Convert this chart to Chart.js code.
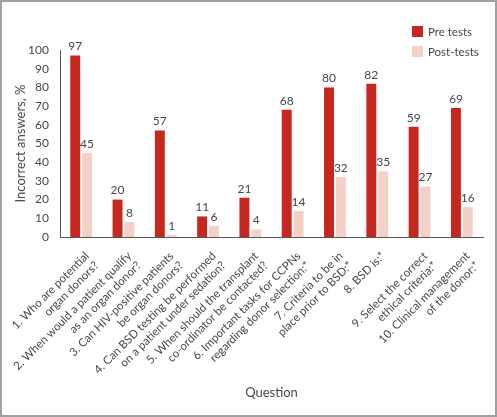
<!DOCTYPE html>
<html>
<head>
<meta charset="utf-8">
<script src="https://cdn.jsdelivr.net/npm/chart.js@4"></script>
<style>
  html, body { margin: 0; padding: 0; background: #fff; }
  #wrap { position: relative; width: 497px; height: 417px; box-sizing: border-box; border: 2px solid #a0a0a0; }
  canvas { position: absolute; left: -2px; top: -2px; }
</style>
</head>
<body>
<div id="wrap"><canvas id="chart" width="497" height="417"></canvas></div>
<script>
const categories = [
    ['1. Who are potential', 'organ donors?'],
    ['2. When would a patient qualify', 'as an organ donor?'],
    ['3. Can HIV-positive patients', 'be organ donors?'],
    ['4. Can BSD testing be performed', 'on a patient under sedation?'],
    ['5. When should the transplant', 'co-ordinator be contacted?'],
    ['6. Important tasks for CCPNs', 'regarding donor selection:*'],
    ['7. Criteria to be in', 'place prior to BSD:*'],
    ['8. BSD is:*'],
    ['9. Select the correct', 'ethical criteria:*'],
    ['10. Clinical management', 'of the donor:*']
];
const preTests = [97, 20, 57, 11, 21, 68, 80, 82, 59, 69];
const postTests = [45, 8, 1, 6, 4, 14, 32, 35, 27, 16];
const yTicks = [0, 10, 20, 30, 40, 50, 60, 70, 80, 90, 100];

const RED = '#c6281f';
const PINK = '#f3d1c7';
const TXT = '#474747';
const FONT = "Lato, sans-serif";

// valeurs au-dessus des barres, étiquettes inclinées, légende
const extras = {
    id: 'extras',
    afterDraw(chart) {
        const c = chart.ctx;
        c.save();
        c.font = '12px ' + FONT;
        c.fillStyle = TXT;
        c.textAlign = 'center';
        c.textBaseline = 'bottom';
        chart.data.datasets.forEach((ds, i) => {
            chart.getDatasetMeta(i).data.forEach((bar, j) => {
                c.fillText(ds.data[j], bar.x, bar.y - 3);
            });
        });
        // étiquettes de l'axe x (45°)
        const xs = chart.scales.x;
        c.font = '11.5px ' + FONT;
        c.textAlign = 'right';
        c.textBaseline = 'middle';
        chart.data.labels.forEach((lines, i) => {
            c.save();
            c.translate(xs.getPixelForTick(i) + 6, xs.top + 17);
            c.rotate(-Math.PI / 4);
            lines.forEach((t, k) => c.fillText(t, 0, k * 13.5));
            c.restore();
        });
        // légende
        const items = [['Pre tests', RED], ['Post-tests', PINK]];
        c.font = '11.5px ' + FONT;
        c.textAlign = 'left';
        items.forEach((it, k) => {
            const y = 26 + k * 20;
            c.fillStyle = it[1];
            c.fillRect(412, y, 11, 11);
            c.fillStyle = TXT;
            c.fillText(it[0], 428, y + 6);
        });
        c.restore();
    }
};

new Chart(document.getElementById('chart'), {
    type: 'bar',
    data: {
        labels: categories,
        datasets: [
            {label: 'Pre tests', data: preTests, backgroundColor: RED},
            {label: 'Post-tests', data: postTests, backgroundColor: PINK}
        ]
    },
    options: {
        responsive: false,
        animation: false,
        layout: {padding: {top: 50, right: 14, left: 0, bottom: 0}},
        datasets: {bar: {categoryPercentage: 0.56, barPercentage: 0.84}},
        plugins: {legend: {display: false}, tooltip: {enabled: false}},
        scales: {
            x: {
                grid: {display: false, drawTicks: false},
                border: {color: '#555', width: 1},
                ticks: {display: false},
                title: {display: true, text: 'Question', color: TXT, font: {family: FONT, size: 13}, padding: {top: 0, bottom: 16}},
                afterFit: s => { s.height = 180; }
            },
            y: {
                min: 0, max: 100,
                grid: {display: false, drawTicks: true, tickLength: 7, color: '#555'},
                border: {color: '#555', width: 1},
                afterBuildTicks: s => { s.ticks = yTicks.map(v => ({value: v})); },
                ticks: {color: TXT, font: {family: FONT, size: 12}, padding: 4},
                title: {display: true, text: 'Incorrect answers, %', color: TXT, font: {family: FONT, size: 13}, padding: {top: 13, bottom: 0}},
                afterFit: s => { s.width = 60; }
            }
        }
    },
    plugins: [extras]
});
</script>
</body>
</html>
